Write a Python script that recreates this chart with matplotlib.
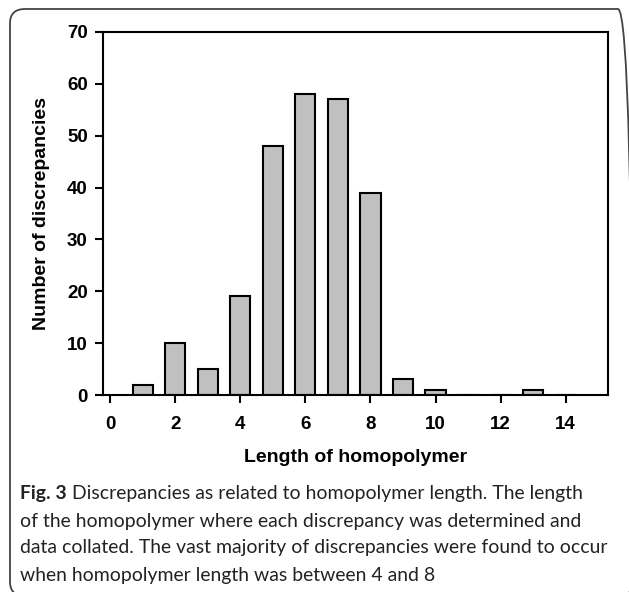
import matplotlib
matplotlib.use("Agg")
import matplotlib.pyplot as plt
from matplotlib.patches import FancyBboxPatch

# homopolymer length vs number of discrepancies
lengths = [1, 2, 3, 4, 5, 6, 7, 8, 9, 10, 11, 12, 13, 14]
counts = [2, 10, 5, 19, 48, 58, 57, 39, 3, 1, 0, 0, 1, 0]
xticks = [0, 2, 4, 6, 8, 10, 12, 14]
yticks = [0, 10, 20, 30, 40, 50, 60, 70]

caption_lines = [
    "Discrepancies as related to homopolymer length. The length",
    "of the homopolymer where each discrepancy was determined and",
    "data collated. The vast majority of discrepancies were found to occur",
    "when homopolymer length was between 4 and 8",
]

W, H = 629, 592
fig = plt.figure(figsize=(W / 100, H / 100), dpi=100)

# rounded frame, cropped at the right and bottom edges of the image
frame = FancyBboxPatch((10 / W, -4 / H), 623 / W, 587 / H,
                       boxstyle="round,pad=0,rounding_size=0.024",
                       transform=fig.transFigure, fill=False,
                       edgecolor="#444444", linewidth=1.3, clip_on=False)
fig.patches.append(frame)

ax = fig.add_axes([103 / W, 1 - 395 / H, 505 / W, 363 / H])
ax.bar(lengths, counts, width=0.62, color="#c0c0c0", edgecolor="black", linewidth=1.5)
ax.set_xlim(-0.22, 15.3)
ax.set_ylim(0, 70)
ax.set_xticks(xticks)
ax.set_yticks(yticks)
for s in ax.spines.values():
    s.set_linewidth(1.5)
ax.tick_params(direction="out", length=6, width=1.5, labelsize=13.5)
ax.tick_params(axis="x", pad=9)
ax.tick_params(axis="y", pad=5)
for lab in ax.get_xticklabels() + ax.get_yticklabels():
    lab.set_fontweight("bold")
    lab.set_family("Liberation Sans")
ax.set_xlabel("Length of homopolymer", fontsize=14, fontweight="bold",
              family="Liberation Sans", labelpad=12)
ax.set_ylabel("Number of discrepancies", fontsize=14, fontweight="bold",
              family="Liberation Sans", labelpad=12)

# caption
cap_font = "Lato"
cap_size = 13.95
x0 = 20 / W
ys = [493, 521, 548, 575]
t = fig.text(x0, 1 - ys[0] / H, "Fig. 3", fontsize=cap_size, fontweight="bold",
             family=cap_font, va="center", color="#222222")
fig.canvas.draw()
bb = t.get_window_extent().transformed(fig.transFigure.inverted())
fig.text(bb.x1 + 5 / W, 1 - ys[0] / H, caption_lines[0], fontsize=cap_size,
         family=cap_font, va="center", color="#222222")
for line, y in zip(caption_lines[1:], ys[1:]):
    fig.text(x0, 1 - y / H, line, fontsize=cap_size, family=cap_font,
             va="center", color="#222222")

fig.savefig("out.png", dpi=100)
